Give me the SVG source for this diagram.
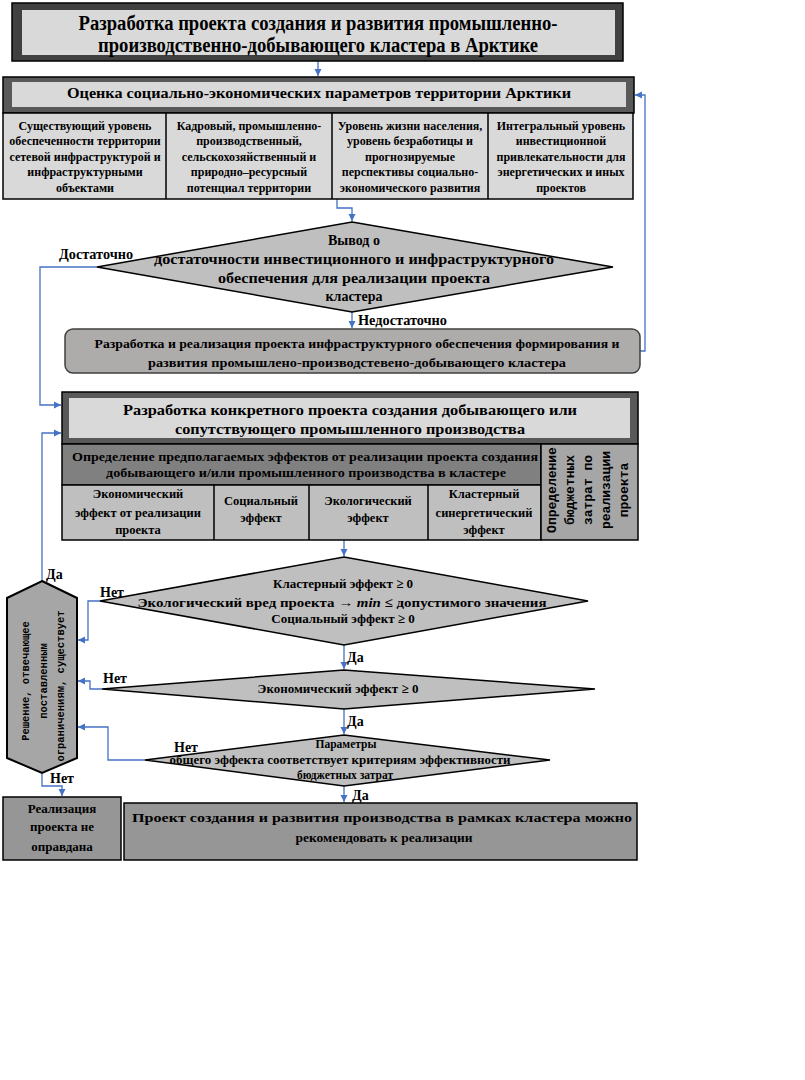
<svg xmlns="http://www.w3.org/2000/svg" width="805" height="1080" viewBox="0 0 805 1080">
<style>
.t{font-family:"Liberation Serif","Times New Roman",serif;font-weight:bold;fill:#000;text-anchor:middle}
.l{font-family:"Liberation Serif","Times New Roman",serif;font-weight:bold;fill:#000}
.m{font-family:"Liberation Mono","Courier New",monospace;font-weight:bold;fill:#000;text-anchor:middle}
.c{fill:none;stroke:#4472c4;stroke-width:1.3}
.bx{stroke:#000;stroke-width:1.5}
.dm{fill:#bfbfbf;stroke:#000;stroke-width:1.5}
</style>
<defs>
<marker id="ar" markerWidth="8" markerHeight="8" refX="7" refY="4" orient="auto" markerUnits="userSpaceOnUse">
<path d="M0,0.5 L7,4 L0,7.5 Z" fill="#4472c4"/>
</marker>
</defs>
<rect width="805" height="1080" fill="#fff"/>

<g id="connectors">
<path class="c" d="M318,61 V76" marker-end="url(#ar)"/>
<path class="c" d="M337,199 V208 H352 V221" marker-end="url(#ar)"/>
<path class="c" d="M352,312 V328" marker-end="url(#ar)"/>
<path class="c" d="M640,351 H645 V95 H635" marker-end="url(#ar)"/>
<path class="c" d="M97,267 H40 V405 H61" marker-end="url(#ar)"/>
<path class="c" d="M42,581 V433 H61" marker-end="url(#ar)"/>
<path class="c" d="M344,540 V556" marker-end="url(#ar)"/>
<path class="c" d="M100,601 H88 V640 H78" marker-end="url(#ar)"/>
<path class="c" d="M344,645 V669" marker-end="url(#ar)"/>
<path class="c" d="M102,689 H90 V681 H78" marker-end="url(#ar)"/>
<path class="c" d="M344,709 V734" marker-end="url(#ar)"/>
<path class="c" d="M145,760 H108 V727 H78" marker-end="url(#ar)"/>
<path class="c" d="M42,773 V786 H62 V796" marker-end="url(#ar)"/>
<path class="c" d="M344,786 V802" marker-end="url(#ar)"/>
</g>

<g id="labels" font-size="14">
<text class="l" x="59" y="259" textLength="74" lengthAdjust="spacingAndGlyphs">Достаточно</text>
<text class="l" x="358" y="325" textLength="89" lengthAdjust="spacingAndGlyphs">Недостаточно</text>
<text class="l" x="46" y="579">Да</text>
<text class="l" x="100" y="597">Нет</text>
<text class="l" x="347" y="662">Да</text>
<text class="l" x="103" y="683">Нет</text>
<text class="l" x="347" y="726">Да</text>
<text class="l" x="174" y="752">Нет</text>
<text class="l" x="50" y="783">Нет</text>
<text class="l" x="352" y="800">Да</text>
</g>

<g id="title">
<rect class="bx" x="12" y="3" width="611" height="58" fill="#404040"/>
<rect x="22" y="10" width="593" height="45" fill="#d9d9d9"/>
<text class="t" x="318" y="30" font-size="20" textLength="479" lengthAdjust="spacingAndGlyphs">Разработка проекта создания и развития промышленно-</text>
<text class="t" x="318" y="52" font-size="20" textLength="440" lengthAdjust="spacingAndGlyphs">производственно-добывающего кластера в Арктике</text>
</g>

<g id="assessment">
<rect class="bx" x="3" y="77" width="631" height="36" fill="#595959"/>
<rect x="12" y="82" width="614" height="25" fill="#d9d9d9"/>
<text class="t" x="319" y="98" font-size="14.5" textLength="504" lengthAdjust="spacingAndGlyphs">Оценка социально-экономических  параметров территории Арктики</text>
</g>

<g id="params-table">
<rect class="bx" x="3" y="113" width="630" height="86" fill="#d9d9d9"/>
<path d="M166,113 V199 M332,113 V199 M488,113 V199" stroke="#000" stroke-width="1.5"/>
<g font-size="12">
<text class="t" x="85" y="130">Существующий уровень</text>
<text class="t" x="85" y="145">обеспеченности территории</text>
<text class="t" x="85" y="161">сетевой инфраструктурой и</text>
<text class="t" x="85" y="176">инфраструктурными</text>
<text class="t" x="85" y="192">объектами</text>
<text class="t" x="249" y="130">Кадровый, промышленно-</text>
<text class="t" x="249" y="145">производственный,</text>
<text class="t" x="249" y="161">сельскохозяйственный  и</text>
<text class="t" x="249" y="176">природно–ресурсный</text>
<text class="t" x="249" y="192">потенциал территории</text>
<text class="t" x="410" y="130">Уровень жизни населения,</text>
<text class="t" x="410" y="145">уровень безработицы и</text>
<text class="t" x="410" y="161">прогнозируемые</text>
<text class="t" x="410" y="176">перспективы социально-</text>
<text class="t" x="410" y="192">экономического развития</text>
<text class="t" x="561" y="130">Интегральный уровень</text>
<text class="t" x="561" y="145">инвестиционной</text>
<text class="t" x="561" y="161">привлекательности  для</text>
<text class="t" x="561" y="176">энергетических  и иных</text>
<text class="t" x="561" y="192">проектов</text>
</g>
</g>

<g id="decision-sufficiency">
<polygon class="dm" points="352,222 613,267 352,312 97,267"/>
<text class="t" x="354" y="245" font-size="14">Вывод о</text>
<text class="t" x="354" y="264" font-size="14" textLength="400" lengthAdjust="spacingAndGlyphs">достаточности инвестиционного и инфраструктурного</text>
<text class="t" x="354" y="283" font-size="14" textLength="272" lengthAdjust="spacingAndGlyphs">обеспечения для реализации проекта</text>
<text class="t" x="354" y="301" font-size="14">кластера</text>
</g>

<g id="infrastructure-project">
<rect x="65" y="329" width="575" height="44" rx="8" fill="#aeabab" stroke="#404040" stroke-width="1.5"/>
<text class="t" x="357" y="348" font-size="13" textLength="525" lengthAdjust="spacingAndGlyphs">Разработка и реализация проекта инфраструктурного  обеспечения формирования  и</text>
<text class="t" x="357" y="367" font-size="13" textLength="418" lengthAdjust="spacingAndGlyphs">развития промышлено-производстевено-добывающего  кластера</text>
</g>

<g id="specific-project">
<rect class="bx" x="62" y="392" width="576" height="52" fill="#595959"/>
<rect x="69" y="398" width="561" height="40" fill="#d9d9d9"/>
<text class="t" x="350" y="415" font-size="14.5" textLength="454" lengthAdjust="spacingAndGlyphs">Разработка  конкретного  проекта  создания  добывающего  или</text>
<text class="t" x="350" y="434" font-size="14.5" textLength="350" lengthAdjust="spacingAndGlyphs">сопутствующего  промышленного  производства</text>
<rect class="bx" x="62" y="444" width="479" height="41" fill="#808080"/>
<text class="t" x="305" y="461" font-size="13" textLength="466" lengthAdjust="spacingAndGlyphs">Определение предполагаемых эффектов  от реализации проекта создания</text>
<text class="t" x="306" y="477" font-size="13" textLength="400" lengthAdjust="spacingAndGlyphs">добывающего и/или промышленного  производства в кластере</text>
<rect class="bx" x="62" y="485" width="479" height="55" fill="#bfbfbf"/>
<path d="M214,485 V540 M309,485 V540 M428,485 V540" stroke="#000" stroke-width="1.5"/>
<g font-size="12.5">
<text class="t" x="138" y="498">Экономический</text>
<text class="t" x="138" y="517">эффект от реализации</text>
<text class="t" x="138" y="534">проекта</text>
<text class="t" x="261" y="505">Социальный</text>
<text class="t" x="261" y="522">эффект</text>
<text class="t" x="368" y="505">Экологический</text>
<text class="t" x="368" y="522">эффект</text>
<text class="t" x="484" y="498">Кластерный</text>
<text class="t" x="484" y="517">синергетический</text>
<text class="t" x="484" y="534">эффект</text>
</g>
<rect class="bx" x="541" y="444" width="97" height="96" fill="#a6a6a6"/>
<g font-size="13">
<text class="m" transform="translate(556,490) rotate(-90)">Определение</text>
<text class="m" transform="translate(574,490) rotate(-90)">бюджетных</text>
<text class="m" transform="translate(592,490) rotate(-90)">затрат по</text>
<text class="m" transform="translate(610,490) rotate(-90)">реализации</text>
<text class="m" transform="translate(628,490) rotate(-90)">проекта</text>
</g>
</g>

<g id="decision-effects">
<polygon class="dm" points="344,557 588,601 344,645 100,601"/>
<text class="t" x="343" y="588" font-size="13">Кластерный эффект ≥ 0</text>
<text class="t" x="342" y="607" font-size="13" textLength="409" lengthAdjust="spacingAndGlyphs">Экологический вред проекта → <tspan font-style="italic">min</tspan> ≤ допустимого значения</text>
<text class="t" x="343" y="623" font-size="13">Социальный эффект ≥ 0</text>
</g>

<g id="decision-economic">
<polygon class="dm" points="344,670 595,689 344,709 102,689"/>
<text class="t" x="338" y="693" font-size="13">Экономический эффект ≥ 0</text>
</g>

<g id="decision-budget">
<polygon class="dm" points="344,735 550,760 344,786 145,760"/>
<text class="t" x="346" y="748" font-size="11.5">Параметры</text>
<text class="t" x="340" y="764" font-size="11.5" textLength="341" lengthAdjust="spacingAndGlyphs">общего  эффекта  соответствует  критериям  эффективности</text>
<text class="t" x="345" y="779" font-size="11.5">бюджетных  затрат</text>
</g>

<g id="solution-exists">
<polygon points="42,581 77,598 77,758 42,773 7,758 7,598" fill="#a6a6a6" stroke="#000" stroke-width="2"/>
<g font-size="10.5">
<text class="m" transform="translate(29,681) rotate(-90)">Решение, отвечающее</text>
<text class="m" transform="translate(47,681) rotate(-90)">поставленным</text>
<text class="m" transform="translate(64,686) rotate(-90)">ограничениям, существует</text>
</g>
</g>

<g id="not-justified">
<rect class="bx" x="3" y="797" width="118" height="63" fill="#969696"/>
<text class="t" x="62" y="813" font-size="13">Реализация</text>
<text class="t" x="62" y="831" font-size="13">проекта не</text>
<text class="t" x="62" y="851" font-size="13">оправдана</text>
</g>

<g id="recommended">
<rect class="bx" x="124" y="803" width="513" height="57" fill="#969696"/>
<text class="t" x="382" y="822" font-size="13.5" textLength="500" lengthAdjust="spacingAndGlyphs">Проект создания и развития производства  в рамках кластера  можно</text>
<text class="t" x="384" y="842" font-size="13.5">рекомендовать к реализации</text>
</g>
</svg>
